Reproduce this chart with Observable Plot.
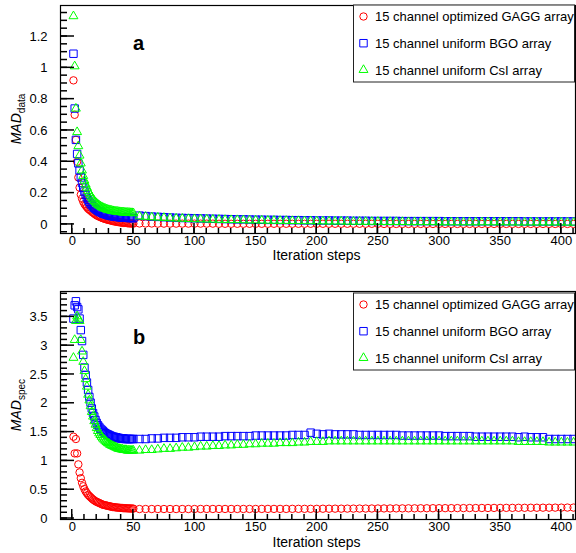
<!DOCTYPE html>
<html><head><meta charset="utf-8">
<script src="https://cdn.jsdelivr.net/npm/d3@7"></script>
<script src="https://cdn.jsdelivr.net/npm/@observablehq/plot@0.6"></script>
<style>
body{margin:0;background:#fff;font-family:"Liberation Sans",Arial,sans-serif;}
#chart{width:576px;}
svg{display:block}
</style></head><body><div id="chart"></div>
<script>
// ---------- data ----------
const seriesNames = ["15 channel optimized GAGG array", "15 channel uniform BGO array", "15 channel uniform CsI array"];
const stepsHead = [1,2,3,4,5,6,7,8,9,10,11,12,13,14,15,16,17,18,19,20,21,22,23,24,25,26,27,28,29,30,31,32,33,34,35,36,37,38,39,40,41,42,43,44,45,46,47,48,49,50];
const stepsTail = [55,60,65,70,75,80,85,90,95,100,105,110,115,120,125,130,135,140,145,150,155,160,165,170,175,180,185,190,195,200,205,210,215,220,225,230,235,240,245,250,255,260,265,270,275,280,285,290,295,300,305,310,315,320,325,330,335,340,345,350,355,360,365,370,375,380,385,390,395,400,405,410];

// panel a: MAD_data
const madDataGAGG = [
0.92,0.70,0.54,0.40,0.30,0.235,0.19,0.165,0.145,0.13,
0.12,0.11,0.10,0.094,0.088,0.081,0.075,0.069,0.063,0.058,
0.054,0.050,0.047,0.043,0.040,0.037,0.035,0.032,0.030,0.028,
0.026,0.024,0.022,0.020,0.019,0.017,0.016,0.015,0.013,0.012,
0.011,0.010,0.010,0.009,0.008,0.007,0.007,0.006,0.006,0.005,
0.006,0.006,0.006,0.005,0.005,0.005,0.005,0.005,0.005,0.005,
0.005,0.005,0.005,0.004,0.004,0.004,0.004,0.004,0.004,0.004,
0.004,0.004,0.004,0.004,0.004,0.004,0.004,0.004,0.004,0.004,
0.004,0.004,0.004,0.004,0.004,0.004,0.004,0.004,0.004,0.004,
0.003,0.003,0.003,0.003,0.003,0.003,0.003,0.003,0.003,0.003,
0.003,0.003,0.003,0.003,0.003,0.003,0.003,0.003,0.003,0.003,
0.003,0.003,0.003,0.003,0.003,0.003,0.003,0.003,0.003,0.003,
0.003,0.003];
const madDataBGO = [
1.09,0.74,0.54,0.45,0.39,0.345,0.30,0.265,0.235,0.21,
0.19,0.172,0.157,0.144,0.133,0.123,0.114,0.106,0.099,0.093,
0.088,0.083,0.079,0.075,0.071,0.068,0.065,0.063,0.060,0.058,
0.056,0.054,0.053,0.051,0.050,0.049,0.048,0.047,0.046,0.045,
0.044,0.044,0.043,0.043,0.042,0.042,0.041,0.041,0.041,0.040,
0.056,0.053,0.050,0.048,0.046,0.044,0.042,0.041,0.040,0.039,
0.038,0.037,0.036,0.035,0.034,0.033,0.032,0.032,0.031,0.030,
0.030,0.029,0.029,0.028,0.028,0.027,0.027,0.026,0.026,0.025,
0.025,0.025,0.024,0.024,0.024,0.023,0.023,0.023,0.022,0.022,
0.022,0.022,0.022,0.021,0.021,0.021,0.021,0.021,0.021,0.021,
0.020,0.020,0.020,0.020,0.020,0.020,0.020,0.020,0.020,0.020,
0.020,0.020,0.020,0.019,0.019,0.019,0.019,0.019,0.019,0.019,
0.019,0.019];
const madDataCsI = [
1.33,1.01,0.74,0.59,0.50,0.44,0.39,0.345,0.31,0.28,
0.255,0.235,0.215,0.20,0.185,0.172,0.161,0.151,0.142,0.134,
0.127,0.121,0.116,0.111,0.107,0.103,0.100,0.097,0.094,0.092,
0.090,0.088,0.086,0.085,0.083,0.082,0.081,0.080,0.079,0.078,
0.077,0.077,0.076,0.075,0.075,0.074,0.074,0.073,0.073,0.072,
0.052,0.049,0.046,0.044,0.042,0.040,0.038,0.037,0.035,0.034,
0.033,0.032,0.031,0.030,0.029,0.028,0.028,0.027,0.026,0.026,
0.025,0.024,0.024,0.023,0.023,0.022,0.022,0.021,0.021,0.020,
0.020,0.019,0.019,0.019,0.018,0.018,0.018,0.017,0.017,0.017,
0.016,0.016,0.016,0.016,0.015,0.015,0.015,0.015,0.015,0.014,
0.014,0.014,0.014,0.014,0.014,0.014,0.014,0.014,0.014,0.014,
0.014,0.013,0.013,0.013,0.013,0.013,0.013,0.013,0.013,0.013,
0.012,0.012];

// panel b: MAD_spec
const madSpecGAGG = [
1.42,1.13,1.38,1.13,0.94,0.80,0.70,0.62,0.56,0.51,
0.47,0.44,0.41,0.39,0.37,0.35,0.33,0.315,0.30,0.29,
0.28,0.27,0.26,0.25,0.24,0.235,0.23,0.225,0.22,0.215,
0.21,0.205,0.20,0.198,0.195,0.192,0.19,0.188,0.186,0.184,
0.182,0.18,0.179,0.178,0.177,0.176,0.175,0.174,0.173,0.172,
0.165,0.165,0.165,0.165,0.165,0.165,0.165,0.165,0.165,0.165,
0.166,0.166,0.166,0.166,0.166,0.166,0.166,0.166,0.166,0.166,
0.167,0.167,0.167,0.167,0.167,0.168,0.168,0.168,0.168,0.168,
0.170,0.170,0.171,0.171,0.172,0.172,0.173,0.173,0.174,0.174,
0.175,0.175,0.176,0.176,0.177,0.177,0.178,0.178,0.179,0.179,
0.180,0.180,0.181,0.181,0.182,0.182,0.183,0.183,0.184,0.184,
0.185,0.185,0.186,0.186,0.187,0.187,0.188,0.188,0.189,0.189,
0.190,0.190];
const madSpecBGO = [
3.47,3.70,3.77,3.67,3.63,3.47,3.27,3.08,2.84,2.62,
2.49,2.36,2.23,2.11,2.01,1.91,1.83,1.77,1.71,1.66,
1.62,1.59,1.56,1.54,1.52,1.50,1.48,1.47,1.46,1.45,
1.44,1.43,1.42,1.42,1.41,1.41,1.40,1.40,1.39,1.39,
1.39,1.39,1.38,1.38,1.38,1.38,1.38,1.38,1.38,1.38,
1.38,1.38,1.39,1.39,1.40,1.40,1.40,1.41,1.41,1.41,
1.42,1.42,1.42,1.42,1.43,1.43,1.43,1.43,1.43,1.44,
1.44,1.44,1.44,1.44,1.44,1.45,1.45,1.45,1.49,1.47,
1.46,1.47,1.46,1.46,1.46,1.46,1.45,1.45,1.45,1.45,
1.45,1.45,1.45,1.44,1.44,1.44,1.44,1.44,1.44,1.44,
1.43,1.43,1.43,1.43,1.43,1.42,1.42,1.42,1.42,1.42,
1.42,1.42,1.41,1.42,1.41,1.41,1.41,1.38,1.38,1.38,
1.38,1.38];
const madSpecCsI = [
2.79,3.10,3.43,3.51,3.47,3.43,3.10,2.90,2.72,2.56,
2.42,2.29,2.15,2.05,1.95,1.85,1.77,1.69,1.63,1.57,
1.52,1.48,1.45,1.42,1.39,1.37,1.35,1.33,1.31,1.30,
1.28,1.27,1.26,1.25,1.24,1.23,1.22,1.21,1.21,1.20,
1.20,1.19,1.19,1.19,1.18,1.18,1.18,1.18,1.18,1.18,
1.18,1.19,1.19,1.20,1.21,1.21,1.22,1.23,1.23,1.24,
1.25,1.25,1.26,1.26,1.27,1.27,1.28,1.28,1.29,1.29,
1.30,1.30,1.30,1.31,1.31,1.31,1.32,1.32,1.33,1.33,
1.33,1.34,1.34,1.34,1.34,1.34,1.34,1.34,1.34,1.34,
1.34,1.34,1.34,1.34,1.34,1.34,1.34,1.34,1.34,1.34,
1.34,1.34,1.34,1.34,1.34,1.34,1.34,1.34,1.34,1.34,
1.34,1.34,1.33,1.33,1.33,1.33,1.33,1.32,1.32,1.32,
1.32,1.32];

const xMajorTicks = [0,50,100,150,200,250,300,350,400];
const yMajorA = [0,0.2,0.4,0.6,0.8,1,1.2];
const yMajorB = [0,0.5,1,1.5,2,2.5,3,3.5];

// ---------- drawing ----------
const steps = [...stepsHead, ...stepsTail];
const rows = vals => vals.map((v, i) => ({step: steps[i], value: v}));
const xMinorTicks = d3.range(0, 411, 10);
const yMinorA = d3.range(-1, 28).map(i => +(i * 0.05).toFixed(2));
const yMinorB = d3.range(0, 40).map(i => +(i * 0.1).toFixed(1));
const colors = ["#ff0000", "#0000ff", "#00ff00"];
const symbols = ["circle", "square", "triangle"];
const d3symbols = [d3.symbolCircle, d3.symbolSquare, d3.symbolTriangle];
const radii = [3.7, 4.2, 3.3];
const FONT = "'Liberation Sans', Arial, sans-serif";
const W = 576, ML = 60, MR = 1;
const xDomain = [-9.6, 411.6];

function panel(cfg) {
  const svg = Plot.plot({
    width: W, height: cfg.height,
    marginLeft: ML, marginRight: MR, marginTop: cfg.mt, marginBottom: cfg.mb,
    style: {fontFamily: FONT, fontSize: "13px", color: "#000", background: "#fff", overflow: "visible"},
    x: {domain: xDomain, label: null},
    y: {domain: cfg.yDomain, label: null},
    marks: [
      Plot.axisX(xMajorTicks, {tickSize: 0, tickPadding: 2, label: null, tickFormat: d => String(d)}),
      Plot.axisY(cfg.yMajor, {tickSize: 0, tickPadding: 13, label: null, tickFormat: d => String(d)}),
      ...cfg.series.map((s, i) => Plot.dot(rows(s), {
        x: "step", y: "value", symbol: symbols[i], r: radii[i],
        stroke: colors[i], strokeWidth: 1, fill: "none"
      })),
      Plot.frame({stroke: "#000", strokeWidth: 1.2})
    ]
  });
  const g = d3.select(svg);
  const sx = svg.scale("x"), sy = svg.scale("y");
  const left = ML, bottom = cfg.height - cfg.mb;
  // inward tick stubs positioned through Plot's own scales
  const tg = g.append("g").attr("stroke", "#000").attr("stroke-width", 1.5);
  const addX = (vals, len) => vals.forEach(v => {
    const px = sx.apply(v);
    tg.append("line").attr("x1", px).attr("x2", px).attr("y1", bottom).attr("y2", bottom - len);
  });
  const addY = (vals, len) => vals.forEach(v => {
    const py = sy.apply(v);
    tg.append("line").attr("x1", left).attr("x2", left + len).attr("y1", py).attr("y2", py);
  });
  addX(xMinorTicks, 5); addX(xMajorTicks, 10);
  addY(cfg.yMinor, 7); addY(cfg.yMajor, 14);
  // y title
  const ytl = g.append("text")
    .attr("transform", `translate(${cfg.yTitleX},${cfg.yTitleY}) rotate(-90)`)
    .attr("text-anchor", "middle").attr("font-size", 14).attr("fill", "#000");
  ytl.append("tspan").attr("font-style", "italic").text("MAD");
  ytl.append("tspan").attr("font-size", 10).attr("dy", 4).text(cfg.sub);
  // x title
  g.append("text").attr("x", 316.5).attr("y", cfg.xTitleY).attr("text-anchor", "middle")
    .attr("font-size", 14).attr("fill", "#000").text("Iteration steps");
  // panel letter
  g.append("text").attr("x", 133).attr("y", cfg.letterY).attr("font-size", 20)
    .attr("text-anchor", "start").attr("font-weight", "bold").attr("fill", "#000").text(cfg.letter);
  // legend
  const lg = g.append("g").attr("text-anchor", "start");
  lg.append("rect").attr("x", 353.5).attr("y", cfg.legTop + 0.5).attr("width", 221).attr("height", 77)
    .attr("fill", "#fff").attr("stroke", "#222");
  seriesNames.forEach((name, i) => {
    const y = cfg.legTop + 12 + i * 26.7;
    lg.append("path").attr("transform", `translate(363.5,${y})`)
      .attr("d", d3.symbol(d3symbols[i], Math.PI * radii[i] * radii[i])())
      .attr("fill", "none").attr("stroke", colors[i]);
    lg.append("text").attr("x", 375).attr("y", y + 4.6).attr("font-size", 13)
      .attr("text-anchor", "start").attr("fill", "#000").text(name);
  });
  return svg;
}

const chart = document.getElementById("chart");
chart.append(panel({
  height: 270, mt: 5, mb: 37, yDomain: [-0.058, 1.398], yMajor: yMajorA, yMinor: yMinorA,
  series: [madDataGAGG, madDataBGO, madDataCsI], sub: "data",
  yTitleX: 21, yTitleY: 119, xTitleY: 260, letter: "a", letterY: 50, legTop: 4.5
}));
chart.append(panel({
  height: 283, mt: 21, mb: 34, yDomain: [-0.017, 3.94], yMajor: yMajorB, yMinor: yMinorB,
  series: [madSpecGAGG, madSpecBGO, madSpecCsI], sub: "spec",
  yTitleX: 21, yTitleY: 135, xTitleY: 277, letter: "b", letterY: 74, legTop: 22.5
}));
</script>
</body></html>
